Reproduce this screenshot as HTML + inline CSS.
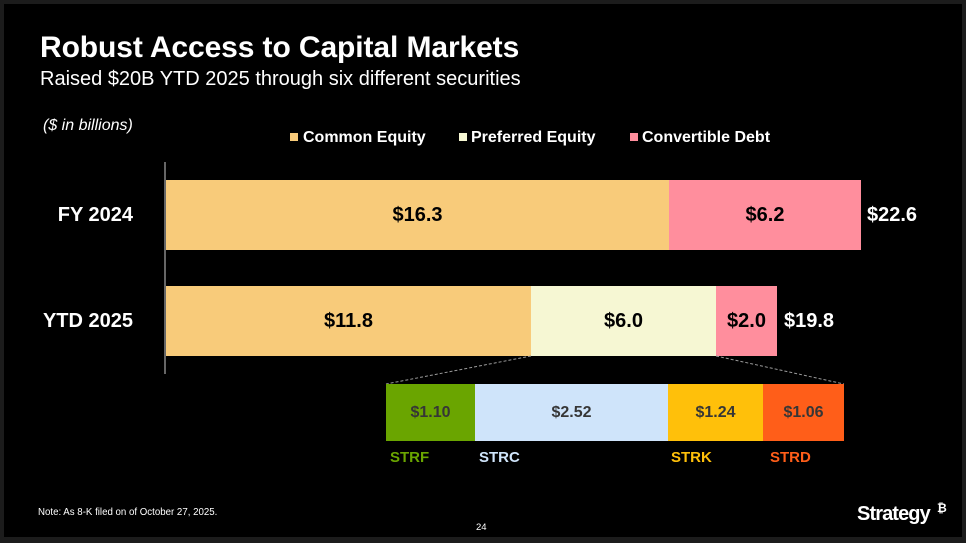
<!DOCTYPE html>
<html><head><meta charset="utf-8"><style>
html,body{margin:0;padding:0;background:#1c1c1c;}
#s{position:relative;width:966px;height:543px;overflow:hidden;background:#1c1c1c;font-family:"Liberation Sans",Arial,sans-serif;}
#f{position:absolute;left:4px;top:4px;width:958px;height:533px;background:#000;}
.a{position:absolute;white-space:nowrap;}
.b{position:absolute;box-sizing:border-box;}
.v{position:absolute;display:flex;align-items:center;justify-content:center;font-weight:bold;font-size:20px;color:#000;}
.w{position:absolute;display:flex;align-items:center;justify-content:center;font-weight:bold;font-size:16px;color:#363636;}
</style></head><body><div id="s"><div id="f"></div>
<div class="a" style="left:40px;top:30px;font-size:30px;font-weight:bold;color:#fff;letter-spacing:-0.1px;line-height:36px;">Robust Access to Capital Markets</div>
<div class="a" style="left:40px;top:67px;font-size:20px;color:#fff;line-height:24px;">Raised $20B YTD 2025 through six different securities</div>
<div class="a" style="left:43px;top:116px;font-size:16px;font-style:italic;color:#fff;line-height:20px;">($ in billions)</div>

<div class="b" style="left:290px;top:133px;width:8px;height:8px;background:#F8CB7A;"></div>
<div class="a" style="left:303px;top:128px;font-size:16px;font-weight:bold;color:#fff;line-height:20px;">Common Equity</div>
<div class="b" style="left:459px;top:133px;width:8px;height:8px;background:#F6F7D3;"></div>
<div class="a" style="left:471px;top:128px;font-size:16px;font-weight:bold;color:#fff;line-height:20px;">Preferred Equity</div>
<div class="b" style="left:630px;top:133px;width:8px;height:8px;background:#FF8E9D;"></div>
<div class="a" style="left:642px;top:128px;font-size:16px;font-weight:bold;color:#fff;line-height:20px;">Convertible Debt</div>

<div class="a" style="left:0;width:133px;text-align:right;top:203px;font-size:20px;font-weight:bold;color:#fff;line-height:24px;">FY 2024</div>
<div class="a" style="left:0;width:133px;text-align:right;top:309px;font-size:20px;font-weight:bold;color:#fff;line-height:24px;">YTD 2025</div>

<div class="b" style="left:164px;top:162px;width:2px;height:212px;background:#666;"></div>

<div class="v" style="left:166px;top:180px;width:503px;height:70px;background:#F8CB7A;">$16.3</div>
<div class="v" style="left:669px;top:180px;width:192px;height:70px;background:#FF8E9D;">$6.2</div>
<div class="a" style="left:867px;top:203px;font-size:20px;font-weight:bold;color:#fff;line-height:24px;">$22.6</div>

<div class="v" style="left:166px;top:286px;width:365px;height:70px;background:#F8CB7A;">$11.8</div>
<div class="v" style="left:531px;top:286px;width:185px;height:70px;background:#F6F7D3;">$6.0</div>
<div class="v" style="left:716px;top:286px;width:61px;height:70px;background:#FF8E9D;">$2.0</div>
<div class="a" style="left:784px;top:309px;font-size:20px;font-weight:bold;color:#fff;line-height:24px;">$19.8</div>

<svg class="a" style="left:0;top:0;" width="966" height="543"><line x1="531" y1="356" x2="386" y2="384" stroke="#9a9a9a" stroke-width="1" stroke-dasharray="3,2"/><line x1="716" y1="356" x2="844" y2="384" stroke="#9a9a9a" stroke-width="1" stroke-dasharray="3,2"/></svg>

<div class="w" style="left:386px;top:384px;width:89px;height:57px;background:#6AA500;">$1.10</div>
<div class="w" style="left:475px;top:384px;width:193px;height:57px;background:#CFE4FA;">$2.52</div>
<div class="w" style="left:668px;top:384px;width:95px;height:57px;background:#FFC00A;">$1.24</div>
<div class="w" style="left:763px;top:384px;width:81px;height:57px;background:#FF5E19;">$1.06</div>

<div class="a" style="left:390px;top:449px;font-size:15px;font-weight:bold;color:#6AA500;line-height:18px;">STRF</div>
<div class="a" style="left:479px;top:449px;font-size:15px;font-weight:bold;color:#CFE4FA;line-height:18px;">STRC</div>
<div class="a" style="left:671px;top:449px;font-size:15px;font-weight:bold;color:#FFC00A;line-height:18px;">STRK</div>
<div class="a" style="left:770px;top:449px;font-size:15px;font-weight:bold;color:#FF5E19;line-height:18px;">STRD</div>

<div class="a" style="left:38px;top:507px;font-size:9.7px;color:#fff;line-height:12px;">Note: As 8-K filed on of October 27, 2025.</div>
<div class="a" style="left:476px;top:522px;font-size:9.5px;color:#fff;line-height:12px;">24</div>
<div class="a" style="left:857px;top:502px;font-size:20px;font-weight:bold;color:#fff;letter-spacing:-0.9px;line-height:24px;">Strategy</div>
<div class="a" style="left:937px;top:501px;font-size:12px;font-weight:bold;color:#fff;line-height:14px;">₿</div>
</div></body></html>
